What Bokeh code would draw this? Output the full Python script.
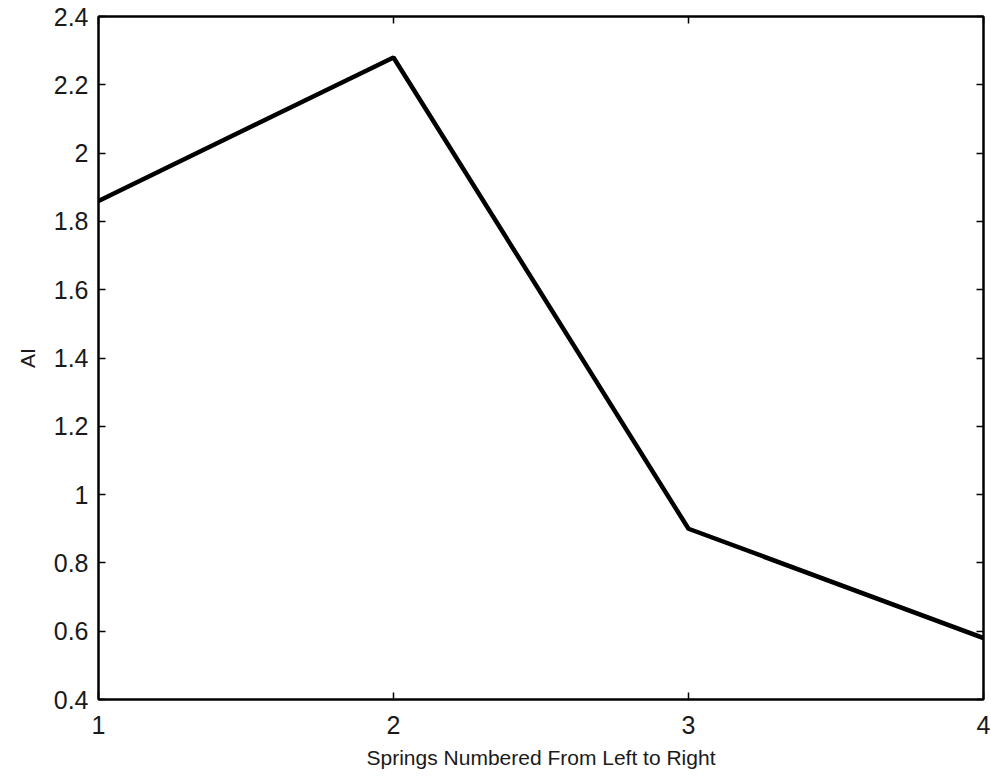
from bokeh.plotting import figure
from bokeh.models import Range1d, LinearAxis, FixedTicker, NumeralTickFormatter, CustomJSTickFormatter
from bokeh.embed import file_html
from bokeh.resources import INLINE

springs = [1, 2, 3, 4]
ai_values = [1.86, 2.28, 0.90, 0.58]
x_ticks = [1, 2, 3, 4]
y_ticks = [0.4, 0.6, 0.8, 1.0, 1.2, 1.4, 1.6, 1.8, 2.0, 2.2, 2.4]

FONT = "Liberation Sans"
TXT = "#1a1a1a"

p = figure(width=990, height=774, output_backend="svg", toolbar_location=None,
           x_range=Range1d(1, 4), y_range=Range1d(0.4, 2.4),
           min_border_left=98, min_border_right=7, min_border_top=16, min_border_bottom=75)
p.background_fill_color = "white"
p.border_fill_color = "white"
p.outline_line_color = "black"
p.outline_line_width = 2
p.xgrid.visible = False
p.ygrid.visible = False

p.line(springs, ai_values, line_color="black", line_width=4.5)

def style(ax):
    ax.axis_line_color = "black"
    ax.axis_line_width = 2
    ax.major_tick_in = 7
    ax.major_tick_out = 0
    ax.major_tick_line_color = "black"
    ax.major_tick_line_width = 1.5
    ax.minor_tick_line_color = None
    ax.major_label_text_font = FONT
    ax.major_label_text_color = TXT
    ax.major_label_text_font_size = "25px"

xa = p.xaxis[0]
xa.ticker = FixedTicker(ticks=x_ticks)
style(xa)
xa.major_label_standoff = 16
xa.axis_label = "Springs Numbered From Left to Right"
xa.axis_label_text_font = FONT
xa.axis_label_text_font_size = "21px"
xa.axis_label_text_font_style = "normal"
xa.axis_label_text_color = TXT
xa.axis_label_standoff = 9

ya = p.yaxis[0]
ya.ticker = FixedTicker(ticks=y_ticks)
ya.formatter = NumeralTickFormatter(format="0.[0]")
style(ya)
ya.major_label_standoff = 10
ya.axis_label = "AI"
ya.axis_label_text_font = FONT
ya.axis_label_text_font_size = "21px"
ya.axis_label_text_font_style = "normal"
ya.axis_label_text_color = TXT
ya.axis_label_standoff = 12

blank = CustomJSTickFormatter(code="return ''")
top = LinearAxis(ticker=FixedTicker(ticks=x_ticks), formatter=blank)
style(top)
top.major_label_standoff = 0
p.add_layout(top, "above")
right = LinearAxis(ticker=FixedTicker(ticks=y_ticks), formatter=blank)
style(right)
right.major_label_standoff = 0
p.add_layout(right, "right")

open("out.html", "w").write(file_html(p, INLINE))
